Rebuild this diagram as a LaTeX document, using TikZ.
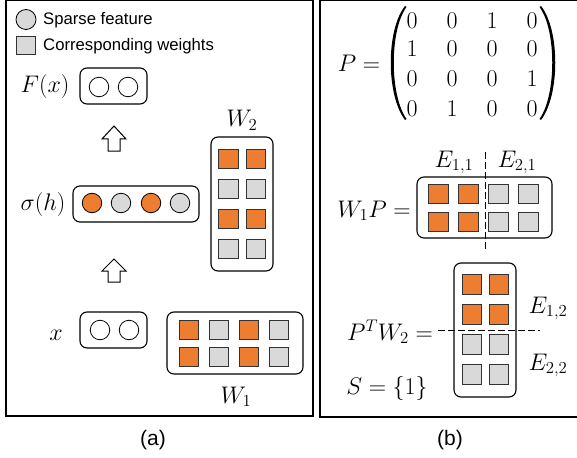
\RequirePackage{fix-cm}
\documentclass[tikz,border=0pt]{standalone}
\usepackage{fontspec}
\newfontfamily\sansf{Liberation Sans}
\definecolor{orng}{HTML}{ED7D31}
\definecolor{lgray}{HTML}{D9D9D9}
\definecolor{sqline}{HTML}{333333}
\tikzset{
  panel/.style={draw, line width=2pt},
  grp/.style={draw, rounded corners=7pt, line width=1.1pt, inner sep=0, rectangle},
  sq/.style={draw=sqline, line width=0.8pt, minimum size=19.5pt, inner sep=0, rectangle},
  osq/.style={sq, fill=orng},
  gsq/.style={sq, fill=lgray},
  feat/.style={circle, draw, line width=0.8pt, minimum size=19.5pt, inner sep=0},
  mth/.style={inner sep=0, font=\fontsize{24}{29}\selectfont},
  lbl/.style={inner sep=0, font=\sansf\fontsize{16.7}{20}\selectfont},
  captxt/.style={inner sep=0, font=\sansf\fontsize{21}{25}\selectfont},
  dsh/.style={line width=1pt, dash pattern=on 6.5pt off 3.5pt},
  blk/.style={draw, line width=1pt, fill=white, line join=miter},
}
\begin{document}
\begin{tikzpicture}[x=1pt,y=-1pt]
\useasboundingbox (0,0) rectangle (577,457);
\clip (0,0) rectangle (577,457);

% panels
\draw[panel] (6,0) rectangle (313,416);
\draw[panel] (320,0) rectangle (600,417);
\node[captxt, anchor=base] (capa) at (153,445) {(a)};
\node[captxt, anchor=base] (capb) at (450,445) {(b)};

% legend
\node[feat, fill=lgray, minimum size=20pt] (lgc) at (26,19.5) {};
\node[lbl, anchor=base west] (lgct) at (43,25) {Sparse feature};
\node[sq, fill=lgray, minimum size=18.5pt] (lgs) at (26,45.5) {};
\node[lbl, anchor=base west] (lgst) at (43,51) {Corresponding weights};

% F(x)
\node[mth] (lFx) at (45,87) {$F(x)$};
\node[grp, minimum width=67pt, minimum height=36pt] (fbox) at (113.5,86) {};
\node[feat, fill=white] (f1) at (99,87) {};
\node[feat, fill=white] (f2) at (128,87) {};

% block arrows
\draw[blk] (114,126) -- (126,139) -- (120,139) -- (120,151) -- (108,151) -- (108,139) -- (102,139) -- cycle;
\draw[blk] (114,259) -- (126,271) -- (120,271) -- (120,282) -- (108,282) -- (108,271) -- (102,271) -- cycle;

% sigma(h)
\node[mth] (lsh) at (43,204) {$\sigma(h)$};
\node[grp, minimum width=126pt, minimum height=36pt] (hbox) at (136,204) {};
\node[feat, fill=orng] (h1) at (92,203) {};
\node[feat, fill=lgray] (h2) at (121,203) {};
\node[feat, fill=orng] (h3) at (151,203) {};
\node[feat, fill=lgray] (h4) at (180,203) {};

% W2
\node[mth, anchor=base] (lW2) at (242,127) {$W_2$};
\node[grp, minimum width=62pt, minimum height=134pt] (w2box) at (242,204) {};
\foreach \r/\y/\s in {1/159/osq, 2/189/gsq, 3/219/osq, 4/249/gsq} {
  \node[\s] (w2a\r) at (228.5,\y) {};
  \node[\s] (w2b\r) at (256,\y) {};
}

% x
\node[mth, anchor=base] (lx) at (56,340) {$x$};
\node[grp, minimum width=67pt, minimum height=36pt] (xbox) at (113.5,330) {};
\node[feat, fill=white] (x1) at (100,330) {};
\node[feat, fill=white] (x2) at (129,330) {};

% W1
\node[grp, minimum width=136pt, minimum height=62pt] (w1box) at (235,343) {};
\foreach \c/\x/\s in {1/189/osq, 2/219/gsq, 3/249/osq, 4/279/gsq} {
  \node[\s] (w1a\c) at (\x,330) {};
  \node[\s] (w1b\c) at (\x,357) {};
}
\node[mth, anchor=base] (lW1) at (236,403) {$W_1$};

% ---------- panel (b)
\node[mth, anchor=base] (lP) at (359,72) {$P=$};
\fill (405,6) .. controls (386,30) and (386,95) .. (405,120) -- (406.5,119) .. controls (389.5,95) and (389.5,30) .. (406.5,7) -- cycle;
\fill (541,6) .. controls (560,30) and (560,95) .. (541,120) -- (539.5,119) .. controls (556.5,95) and (556.5,30) .. (539.5,7) -- cycle;
\foreach \r/\y/\a/\b/\c/\d in {1/28.5/0/0/1/0, 2/57/1/0/0/0, 3/87/0/0/0/1, 4/116.5/0/1/0/0} {
  \node[mth, anchor=base] (m\r a) at (412,\y) {$\a$};
  \node[mth, anchor=base] (m\r b) at (452,\y) {$\b$};
  \node[mth, anchor=base] (m\r c) at (492,\y) {$\c$};
  \node[mth, anchor=base] (m\r d) at (532,\y) {$\d$};
}

% W1 P
\node[mth, anchor=base] (lE11) at (454,167) {$E_{1,1}$};
\node[mth, anchor=base] (lE21) at (517,167) {$E_{2,1}$};
\node[mth, anchor=base] (lW1P) at (374,217) {$W_1P=$};
\node[grp, minimum width=135pt, minimum height=61pt] (wpbox) at (484.5,207.5) {};
\foreach \c/\x/\s in {1/438.5/osq, 2/468.5/osq, 3/498.5/gsq, 4/528.5/gsq} {
  \node[\s] (wpa\c) at (\x,194) {};
  \node[\s] (wpb\c) at (\x,222) {};
}
\coordinate (vt) at (485,152);
\coordinate (vb) at (485,252);
\draw[dsh] (vt) -- (vb);

% P^T W2
\node[mth, anchor=base] (lPW) at (390,340) {$P^TW_2=$};
\node[grp, minimum width=62pt, minimum height=134pt] (pwbox) at (485,330) {};
\foreach \r/\y/\s in {1/284.5/osq, 2/314.5/osq, 3/344.5/gsq, 4/374.5/gsq} {
  \node[\s] (pwa\r) at (472,\y) {};
  \node[\s] (pwb\r) at (499,\y) {};
}
\coordinate (hl) at (438,330);
\coordinate (hr) at (540,330);
\draw[dsh] (hl) -- (hr);
\node[mth, anchor=base] (lE12) at (548,313) {$E_{1,2}$};
\node[mth, anchor=base] (lE22) at (548,370) {$E_{2,2}$};
\node[mth, anchor=base] (lS) at (387,394) {$S=\{1\}$};
\end{tikzpicture}
\end{document}
